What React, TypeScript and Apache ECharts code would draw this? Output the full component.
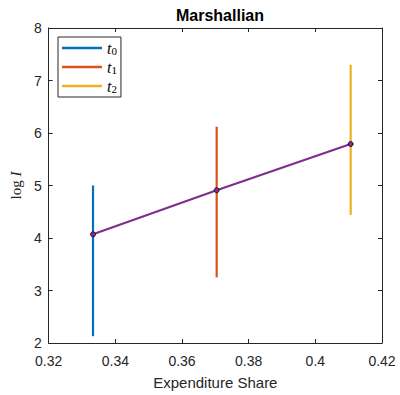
import React, { useEffect, useRef } from "react";
import * as echarts from "echarts";

const seriesNames = ["t0", "t1", "t2"];
const xPositions = [0.3333, 0.3704, 0.4106];
const lowValues = [2.13, 3.25, 4.44];
const highValues = [5.0, 6.12, 7.3];
const meanValues = [4.07, 4.91, 5.79];
const colors = ["#0072BD", "#D95319", "#EDB120"];
const xTicks = [0.32, 0.34, 0.36, 0.38, 0.4, 0.42];
const yTicks = [2, 3, 4, 5, 6, 7, 8];

const SANS = "'Liberation Sans', Arial, Helvetica, sans-serif";
const SERIF = "'Liberation Serif', 'DejaVu Serif', serif";
const AX = "#262626";

export default function App() {
  const ref = useRef<HTMLDivElement>(null);
  useEffect(() => {
    if (!ref.current) return;
    const chart = echarts.init(ref.current, undefined, { renderer: "svg" });
    const barSeries = seriesNames.map((n, i) => ({
      name: n,
      type: "line",
      data: [
        [xPositions[i], lowValues[i]],
        [xPositions[i], highValues[i]],
      ],
      showSymbol: false,
      symbol: "none",
      lineStyle: { color: colors[i], width: 2.2 },
      itemStyle: { color: colors[i] },
      z: 2,
    }));
    const axisCommon = {
      axisLine: { show: true, lineStyle: { color: AX, width: 1 } },
      axisTick: { show: true, inside: true, length: 4, lineStyle: { color: AX } },
      splitLine: { show: false },
    };
    chart.setOption({
      animation: false,
      backgroundColor: "#ffffff",
      title: {
        text: "Marshallian",
        left: 215,
        textAlign: "center",
        top: 2,
        textStyle: { fontFamily: SANS, fontWeight: "bold", fontSize: 16, color: "#000" },
      },
      grid: { left: 48, right: 18, top: 28, bottom: 48 },
      legend: {
        orient: "vertical",
        left: 58,
        top: 37,
        data: seriesNames.map((n) => ({ name: n, icon: "rect" })),
        itemWidth: 40,
        itemHeight: 2.5,
        itemGap: 3,
        padding: [3, 4, 3, 4],
        borderColor: "#262626",
        borderWidth: 1,
        backgroundColor: "#fff",
        selectedMode: false,
        formatter: (name: string) => `{t|t}{s|${name.slice(1)}}`,
        textStyle: {
          rich: {
            t: { fontFamily: SERIF, fontStyle: "italic", fontSize: 16, lineHeight: 16, color: "#000" },
            s: { fontFamily: SERIF, fontSize: 11, lineHeight: 16, verticalAlign: "bottom", padding: [5, 0, 0, 0], color: "#000" },
          },
        },
      },
      xAxis: [
        {
          type: "value",
          min: xTicks[0],
          max: xTicks[xTicks.length - 1],
          interval: 0.02,
          ...axisCommon,
          axisLabel: {
            fontFamily: SANS,
            fontSize: 14,
            color: AX,
            margin: 11,
            formatter: (v: number) => String(parseFloat(v.toFixed(2))),
          },
          name: "Expenditure Share",
          nameLocation: "middle",
          nameGap: 32,
          nameTextStyle: { fontFamily: SANS, fontSize: 15, color: AX },
        },
        {
          type: "value",
          position: "top",
          min: xTicks[0],
          max: xTicks[xTicks.length - 1],
          interval: 0.02,
          ...axisCommon,
          axisLabel: { show: false },
        },
      ],
      yAxis: [
        {
          type: "value",
          min: yTicks[0],
          max: yTicks[yTicks.length - 1],
          interval: 1,
          ...axisCommon,
          axisLabel: { fontFamily: SANS, fontSize: 14, color: AX, margin: 7 },
          name: "{a|log }{b|I}",
          nameLocation: "middle",
          nameGap: 25,
          nameRotate: 90,
          nameTextStyle: {
            rich: {
              a: { fontFamily: SERIF, fontSize: 15, color: AX },
              b: { fontFamily: SERIF, fontSize: 15, fontStyle: "italic", color: AX },
            },
          },
        },
        {
          type: "value",
          position: "right",
          min: yTicks[0],
          max: yTicks[yTicks.length - 1],
          interval: 1,
          ...axisCommon,
          axisLabel: { show: false },
        },
      ],
      series: [
        ...barSeries,
        {
          name: "mean",
          type: "line",
          data: xPositions.map((x, i) => [x, meanValues[i]]),
          symbol: "circle",
          symbolSize: 5,
          lineStyle: { color: "#7E2F8E", width: 2.2 },
          itemStyle: { color: "#7E2F8E", borderColor: "#2a1030", borderWidth: 1 },
          z: 5,
        },
      ],
    });
    return () => chart.dispose();
  }, []);
  return (
    <div
      ref={ref}
      style={{ position: "fixed", left: 0, top: 0, width: 400, height: 395, background: "#fff" }}
    />
  );
}
